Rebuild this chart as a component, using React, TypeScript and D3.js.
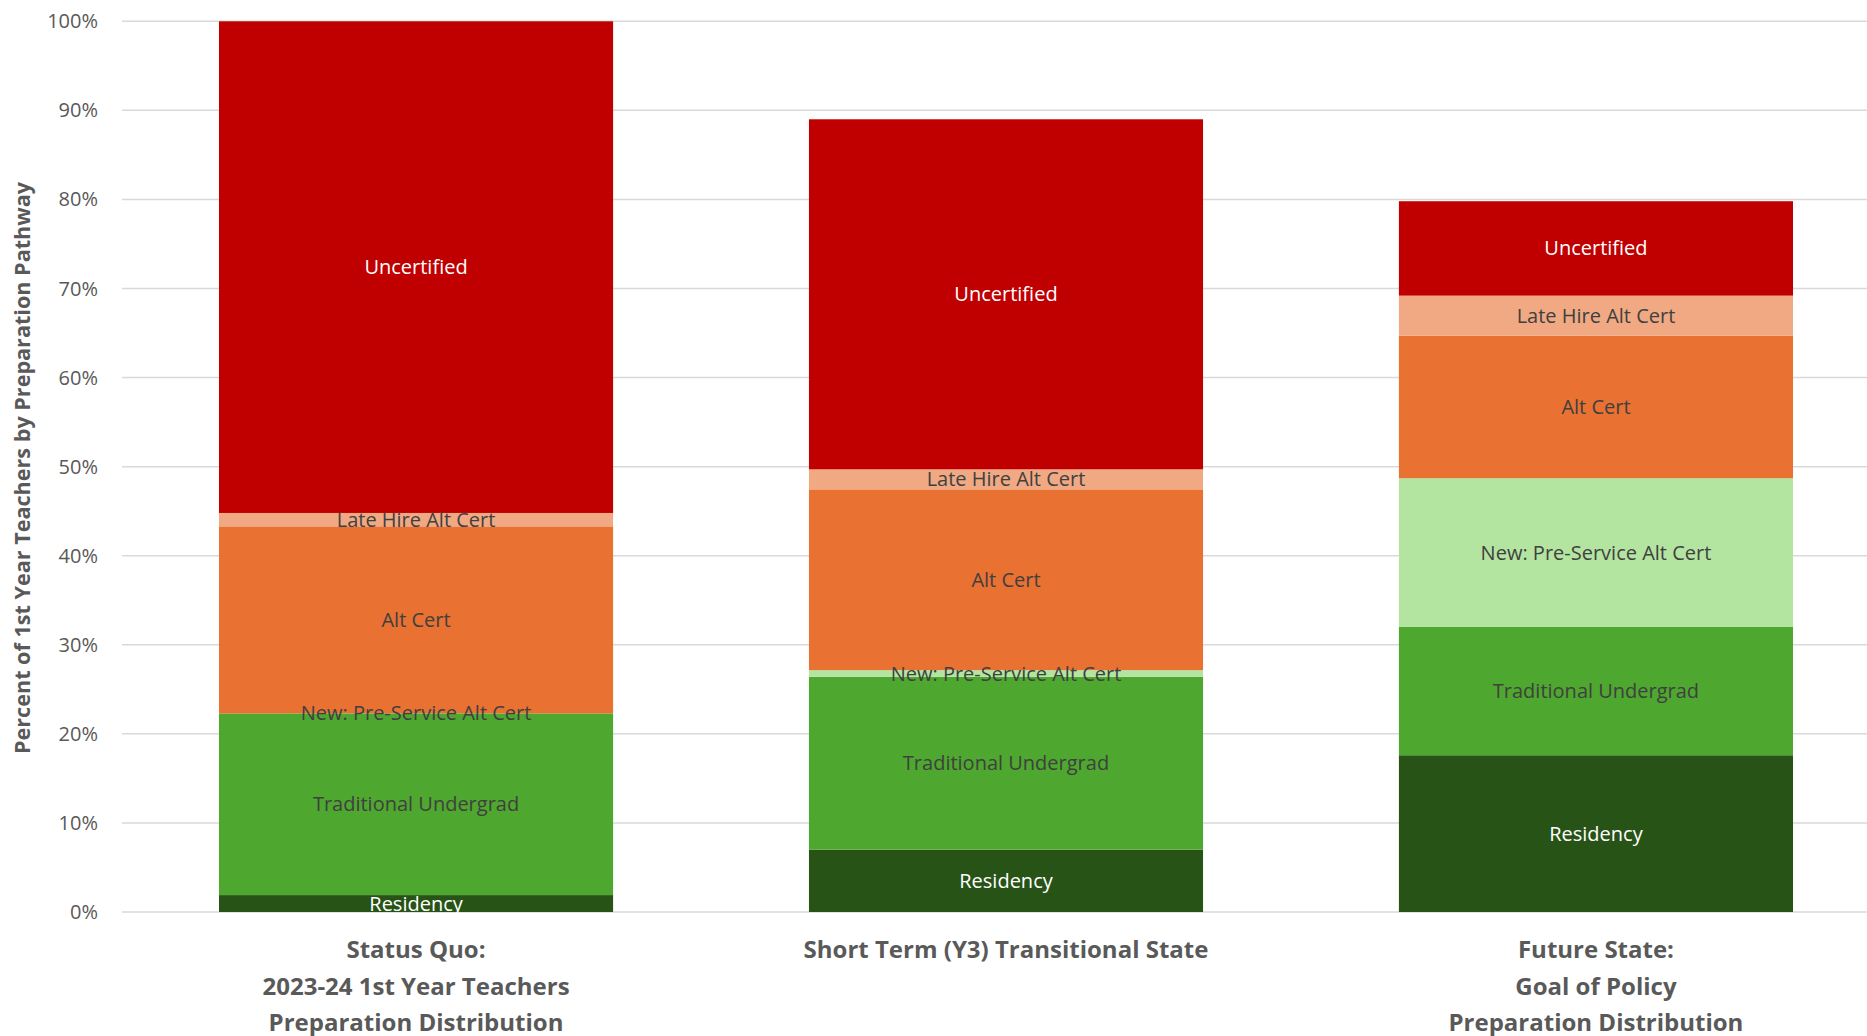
import React from "react";
import * as d3 from "d3";

const categories = [
  ["Status Quo:", "2023-24 1st Year Teachers", "Preparation Distribution"],
  ["Short Term (Y3) Transitional State"],
  ["Future State:", "Goal of Policy", "Preparation Distribution"],
];
const categoryKeys = ["statusQuo", "shortTerm", "future"];

const seriesNames = [
  "Residency",
  "Traditional Undergrad",
  "New: Pre-Service Alt Cert",
  "Alt Cert",
  "Late Hire Alt Cert",
  "Uncertified",
];
const residency = [0.019, 0.07, 0.176];
const traditionalUndergrad = [0.204, 0.194, 0.144];
const newPreService = [0.0, 0.0075, 0.167];
const altCert = [0.21, 0.203, 0.16];
const lateHireAltCert = [0.015, 0.0225, 0.045];
const uncertified = [0.552, 0.393, 0.106];
const seriesValues = [residency, traditionalUndergrad, newPreService, altCert, lateHireAltCert, uncertified];

const seriesColors = ["#275317", "#4EA72E", "#B3E5A1", "#E97132", "#F1A983", "#C00000"];
const labelColors = ["#FFFFFF", "#404040", "#404040", "#404040", "#404040", "#FFFFFF"];

const yTicks = [0, 0.1, 0.2, 0.3, 0.4, 0.5, 0.6, 0.7, 0.8, 0.9, 1.0];
const yAxisTitle = "Percent of 1st Year Teachers by Preparation Pathway";

const W = 1867;
const H = 1036;
const FONT = "'Open Sans', 'Noto Sans', sans-serif";

export default function App() {
  const x = d3.scaleBand<string>().domain(categoryKeys).range([122, 1890]).paddingInner(0.332).paddingOuter(0.1644);
  const y = d3.scaleLinear().domain([0, 1]).range([912, 21.3]);

  const rows = categoryKeys.map((k, i) => {
    const r: any = { key: k };
    seriesNames.forEach((s, j) => (r[s] = seriesValues[j][i]));
    return r;
  });
  const stacked = d3.stack<any>().keys(seriesNames)(rows);
  const cx = (i: number) => (x(categoryKeys[i]) as number) + x.bandwidth() / 2;

  return (
    <svg width={W} height={H} style={{ position: "absolute", left: 0, top: 0, background: "#fff" }}>
      {yTicks.map((t) => (
        <g key={t}>
          <line x1={122} x2={W} y1={y(t)} y2={y(t)} stroke="#D9D9D9" strokeWidth={1.5} />
          <text x={98} y={y(t)} dy="0.35em" textAnchor="end" fontFamily={FONT} fontSize={20} fill="#595959">
            {d3.format(".0%")(t)}
          </text>
        </g>
      ))}
      <text
        transform={`translate(22,468) rotate(-90)`}
        textAnchor="middle"
        dy="0.35em"
        fontFamily={FONT}
        fontSize={21.6}
        fontWeight="bold"
        fill="#595959"
      >
        {yAxisTitle}
      </text>
      {stacked.map((layer, j) => (
        <g key={layer.key}>
          {layer.map((d, i) => (
            <rect
              key={i}
              x={x(categoryKeys[i])}
              width={x.bandwidth()}
              y={y(d[1])}
              height={Math.max(0, y(d[0]) - y(d[1]))}
              fill={seriesColors[j]}
            />
          ))}
        </g>
      ))}
      {stacked.map((layer, j) => (
        <g key={layer.key + "-lbl"}>
          {layer.map((d, i) => (
            <text
              key={i}
              x={cx(i)}
              y={(y(d[0]) + y(d[1])) / 2}
              dy="0.35em"
              textAnchor="middle"
              fontFamily={FONT}
              fontSize={20}
              fill={labelColors[j]}
            >
              {layer.key}
            </text>
          ))}
        </g>
      ))}
      {categories.map((lines, i) => (
        <text key={i} x={cx(i)} textAnchor="middle" fontFamily={FONT} fontSize={24} fontWeight="bold" fill="#595959">
          {lines.map((l, k) => (
            <tspan key={k} x={cx(i)} y={950 + k * 36.5} dy="0.35em">
              {l}
            </tspan>
          ))}
        </text>
      ))}
    </svg>
  );
}
